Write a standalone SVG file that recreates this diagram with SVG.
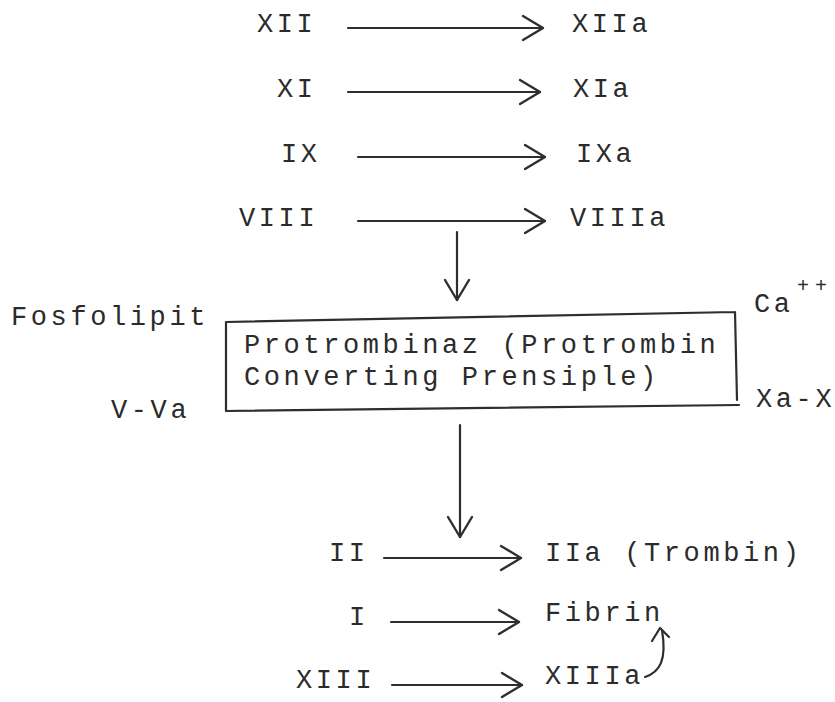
<svg xmlns="http://www.w3.org/2000/svg" width="835" height="702" viewBox="0 0 835 702">
  <style>
    text { font-family: "Liberation Mono", "DejaVu Sans Mono", monospace; font-size: 27px; letter-spacing: 3.6px; fill: #2b2b2b; }
    .sup { font-size: 20px; letter-spacing: 6px; }
    .ln { fill: none; stroke: #2e2e2e; stroke-width: 2.2; stroke-linecap: round; stroke-linejoin: round; }
  </style>
  <defs>
    <marker id="head" viewBox="0 0 24 28" refX="22" refY="14" markerWidth="24" markerHeight="28" markerUnits="userSpaceOnUse" orient="auto">
      <path d="M2,2 L22,14 L2,26" fill="none" stroke="#2e2e2e" stroke-width="2.4" stroke-linecap="round" stroke-linejoin="round"/>
    </marker>
  </defs>
  <rect width="835" height="702" fill="#ffffff"/>

  <!-- factor activation cascade -->
  <g id="xii"><text x="257" y="32">XII</text></g>
  <g id="xiia"><text x="572" y="32">XIIa</text></g>
  <g id="xi"><text x="277" y="97">XI</text></g>
  <g id="xia"><text x="573" y="97">XIa</text></g>
  <g id="ix"><text x="281" y="162">IX</text></g>
  <g id="ixa"><text x="576" y="162">IXa</text></g>
  <g id="viii"><text x="239" y="226">VIII</text></g>
  <g id="viiia"><text x="570" y="226">VIIIa</text></g>

  <!-- prothrombinase complex -->
  <g id="protrombinaz">
    <path class="ln" d="M226,322 L735,312 M735,312 L737,400 M226,322 L226,411 L739,405"/>
    <text x="244" y="353">Protrombinaz (Protrombin</text>
    <text x="244" y="385">Converting Prensiple)</text>
  </g>
  <g id="fosfolipit"><text x="11" y="325">Fosfolipit</text></g>
  <g id="vva"><text x="111" y="418">V-Va</text></g>
  <g id="ca"><text x="754" y="312">Ca</text><text class="sup" x="797" y="292">++</text></g>
  <g id="xax"><text x="756" y="407">Xa-X</text></g>

  <!-- common pathway -->
  <g id="ii"><text x="329" y="561">II</text></g>
  <g id="iia"><text x="545" y="561">IIa (Trombin)</text></g>
  <g id="i"><text x="349" y="625">I</text></g>
  <g id="fibrin"><text x="545" y="621">Fibrin</text></g>
  <g id="xiii"><text x="296" y="688">XIII</text></g>
  <g id="xiiia"><text x="545" y="684">XIIIa</text></g>

  <g id="connectors">
    <path class="ln" d="M348,28 L543,28" marker-end="url(#head)"/>
    <path class="ln" d="M348,92 L540,92" marker-end="url(#head)"/>
    <path class="ln" d="M358,157 L545,157" marker-end="url(#head)"/>
    <path class="ln" d="M358,221 L545,221" marker-end="url(#head)"/>
    <path class="ln" d="M457,232 L457,300" marker-end="url(#head)"/>
    <path class="ln" d="M460,425 L460,537" marker-end="url(#head)"/>
    <path class="ln" d="M384,558 L521,558" marker-end="url(#head)"/>
    <path class="ln" d="M391,622 L519,622" marker-end="url(#head)"/>
    <path class="ln" d="M392,685 L522,685" marker-end="url(#head)"/>
    <path class="ln" d="M645,677 C660,672 667,660 662,630"/>
    <path class="ln" d="M652,641 L660,628 L669,637"/>
  </g>
</svg>
